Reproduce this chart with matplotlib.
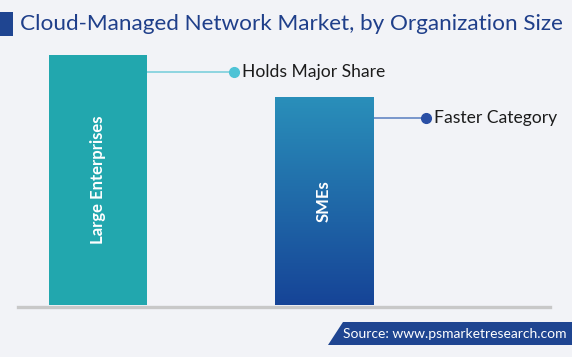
import numpy as np
import matplotlib
matplotlib.use("Agg")
import matplotlib.pyplot as plt
from matplotlib.patches import Polygon, Rectangle
from matplotlib.lines import Line2D
from matplotlib.colors import LinearSegmentedColormap

categories = ["Large Enterprises", "SMEs"]
values = [100, 83.2]
callouts = ["Holds Major Share", "Faster Category"]
title = "Cloud-Managed Network Market, by Organization Size"
source = "Source: www.psmarketresearch.com"

W, H = 572, 357
BG = "#f2f3f7"
FONT = "Lato"

fig = plt.figure(figsize=(W / 100, H / 100), dpi=100, facecolor=BG)

def fx(px):
    return px / W

def fy(py):
    return 1 - py / H

# axes
ax_l, ax_r, ax_t, ax_b = 18, 550, 55, 305
ax = fig.add_axes([fx(ax_l), fy(ax_b), (ax_r - ax_l) / W, (ax_b - ax_t) / H])
ax.set_facecolor("none")
for s in ax.spines.values():
    s.set_visible(False)
ax.set_xticks([])
ax.set_yticks([])
xlim = (-0.354, 2.0)
ylim = (0, 100)

x = np.arange(len(categories))
width = 0.434
bars = ax.bar(x, values, width=width, color=["#22a7ae", "none"], zorder=2)

# gradient for second bar
cmap = LinearSegmentedColormap.from_list("g", ["#164497", "#2a8fba"])
b = bars[1]
grad = np.linspace(0, 1, 256).reshape(-1, 1)
im = ax.imshow(grad, cmap=cmap, origin="lower", aspect="auto",
               extent=[b.get_x(), b.get_x() + b.get_width(), 0, b.get_height()],
               zorder=2)
im.set_clip_path(b)
ax.set_xlim(*xlim)
ax.set_ylim(*ylim)

# bar labels
for xi, cat, v in zip(x, categories, values):
    ax.text(xi, v / 2, cat, rotation=90, ha="center", va="center",
            color="white", fontsize=12, fontweight="bold", family=FONT, zorder=3)

# callouts
line_colors = ["#86d2de", "#6f8fc8"]
dot_colors = ["#4ec3d6", "#2a4fa5"]
dot_x = [0.602, 1.450]
y_off = [6.8, 8.3]
for xi, v, txt, lc, dc, dx, yo in zip(x, values, callouts, line_colors, dot_colors, dot_x, y_off):
    yy = v - yo
    ax.plot([xi + width / 2, dx], [yy, yy], color=lc, lw=1.3, zorder=1, clip_on=False)
    ax.plot([dx], [yy], "o", color=dc, ms=7, zorder=3, clip_on=False)
    ax.text(dx + 0.035, yy, txt, ha="left", va="center", fontsize=12.6,
            color="#1c1c1c", family=FONT, clip_on=False)

# baseline
fig.add_artist(Line2D([fx(18), fx(550)], [fy(306.5), fy(306.5)],
                      color="#c8c8c8", lw=2.4, zorder=1))

# title
fig.add_artist(Rectangle((fx(0), fy(36)), 13 / W, 24 / H, color="#1f4591", lw=0))
fig.text(fx(20), fy(24), title, ha="left", va="center", fontsize=16.2,
         color="#1f3f8a", family=FONT, fontweight="normal")

# source box
pts = [(fx(328), fy(345)), (fx(343), fy(322)), (fx(572), fy(322)), (fx(572), fy(345))]
fig.add_artist(Polygon(pts, closed=True, color="#1f4591", lw=0))
fig.text(fx(455), fy(333.5), source, ha="center", va="center", fontsize=10,
         color="white", family=FONT)

fig.savefig("out.png", dpi=100, facecolor=BG)
